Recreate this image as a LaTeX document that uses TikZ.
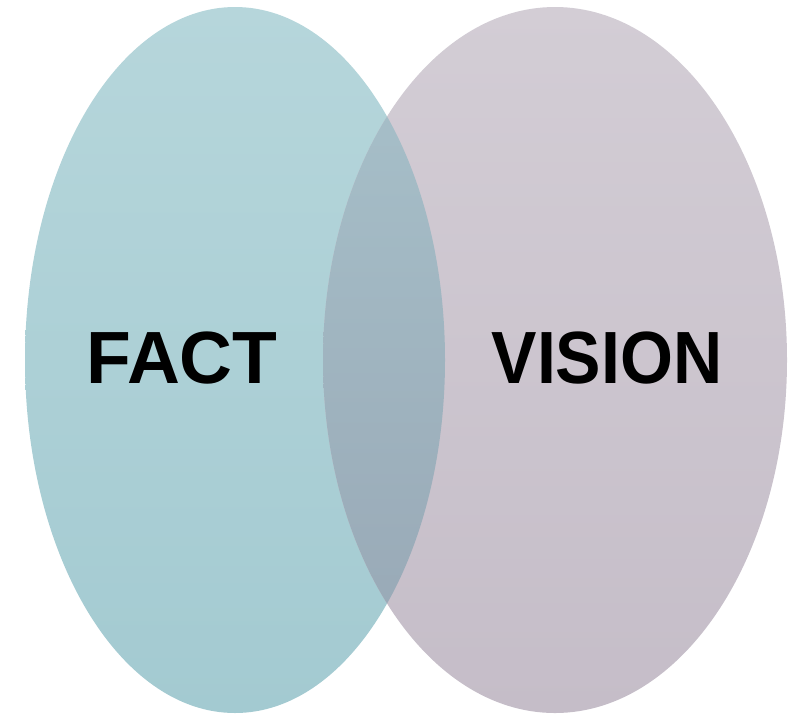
\documentclass[tikz,border=0pt]{standalone}
\usepackage{fontspec}
\setmainfont{Liberation Sans}
\definecolor{lt}{RGB}{182,214,219}
\definecolor{lb}{RGB}{163,202,209}
\definecolor{rt}{RGB}{211,205,213}
\definecolor{rb}{RGB}{197,189,200}
\definecolor{ot}{RGB}{168,194,203}
\definecolor{ob}{RGB}{151,166,180}
\begin{document}
\begin{tikzpicture}[x=1pt,y=-1pt,
  lbl/.style={font=\bfseries\fontsize{74}{74}\selectfont, text=black, inner sep=0pt, anchor=base}]
\useasboundingbox (0,0) rectangle (800,713);
\path[top color=lt, bottom color=lb] (235,360) ellipse [x radius=210, y radius=353];
\path[top color=rt, bottom color=rb] (555,360) ellipse [x radius=232, y radius=353];
\begin{scope}
\clip (235,360) ellipse [x radius=210, y radius=353];
\path[top color=ot, bottom color=ob] (555,360) ellipse [x radius=232, y radius=353];
\end{scope}
\node[lbl, xscale=0.99] (fact) at (182,383) {FACT};
\node[lbl, xscale=0.92] (vision) at (607,383) {VISION};
\end{tikzpicture}
\end{document}
